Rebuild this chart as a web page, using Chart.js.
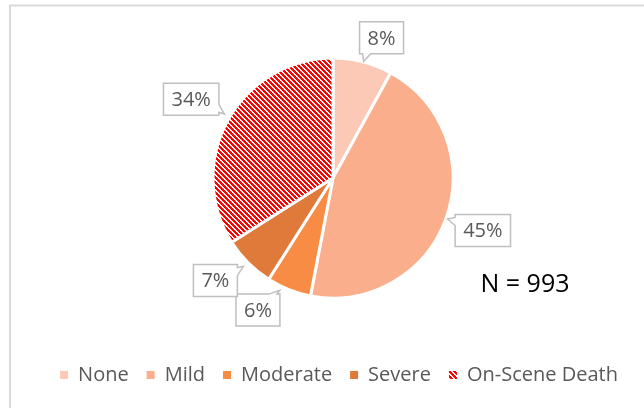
<!DOCTYPE html>
<html>
<head>
<meta charset="utf-8">
<script src="https://cdn.jsdelivr.net/npm/chart.js@4"></script>
<style>
  html, body { margin: 0; padding: 0; background: #fff; }
  #wrap { width: 644px; height: 408px; }
</style>
</head>
<body>
<div id="wrap"><canvas id="severityChart" width="644" height="408"></canvas></div>
<script>
// chart data
const categories = ["None", "Mild", "Moderate", "Severe", "On-Scene Death"]
const percents = [8, 45, 6, 7, 34]
const sampleSize = 993

const sliceColors = ["#FCC9B6", "#FBAE8C", "#F98C44", "#E07A3B"]

// red with white diagonal stripes for the last slice
function stripePattern() {
  const n = 5
  const c = document.createElement("canvas")
  c.width = n
  c.height = n
  const g = c.getContext("2d")
  g.fillStyle = "#FF0000"
  g.fillRect(0, 0, n, n)
  g.fillStyle = "#FFFFFF"
  for (let y = 0; y < n; y++) {
    g.fillRect(y, y, 1, 1)
    g.fillRect((y + 1) % n, y, 1, 1)
  }
  return g.createPattern(c, "repeat")
}

const frameLine = {
  id: "frameLine",
  beforeDraw(chart) {
    const ctx = chart.ctx
    ctx.save()
    ctx.strokeStyle = "#D9D9D9"
    ctx.lineWidth = 2
    ctx.strokeRect(10, 5.5, 800, 600)
    ctx.restore()
  },
}

// nudge the legend a little to the right, as in the original
const legendShift = {
  id: "legendShift",
  afterLayout(chart) {
    if (chart.legend) {
      chart.legend.left += 6
      chart.legend.right += 6
    }
  },
}

function drawCallout(ctx, cx, cy, w, h, ax, ay) {
  const L = cx - w / 2, R = cx + w / 2, T = cy - h / 2, B = cy + h / 2
  const nw = 4, depth = 8
  const dx = ax - cx, dy = ay - cy
  let side
  if (Math.abs(dx) / (w / 2) > Math.abs(dy) / (h / 2)) side = dx > 0 ? "right" : "left"
  else side = dy > 0 ? "bottom" : "top"
  const clamp = (v, a, b) => Math.max(a, Math.min(b, v))
  let b1, b2
  if (side === "top" || side === "bottom") {
    const px = clamp(ax, L + nw + 3, R - nw - 3)
    const yy = side === "top" ? T : B
    b1 = [px - nw, yy]
    b2 = [px + nw, yy]
  } else {
    const py = clamp(ay, T + nw + 3, B - nw - 3)
    const xx = side === "left" ? L : R
    b1 = [xx, py - nw]
    b2 = [xx, py + nw]
  }
  const mx = (b1[0] + b2[0]) / 2, my = (b1[1] + b2[1]) / 2
  const vx = ax - mx, vy = ay - my
  const len = Math.hypot(vx, vy) || 1
  const tip = [mx + (vx / len) * depth, my + (vy / len) * depth]

  ctx.beginPath()
  ctx.moveTo(L, T)
  if (side === "top") { ctx.lineTo(b1[0], T); ctx.lineTo(tip[0], tip[1]); ctx.lineTo(b2[0], T) }
  ctx.lineTo(R, T)
  if (side === "right") { ctx.lineTo(R, b1[1]); ctx.lineTo(tip[0], tip[1]); ctx.lineTo(R, b2[1]) }
  ctx.lineTo(R, B)
  if (side === "bottom") { ctx.lineTo(b2[0], B); ctx.lineTo(tip[0], tip[1]); ctx.lineTo(b1[0], B) }
  ctx.lineTo(L, B)
  if (side === "left") { ctx.lineTo(L, b2[1]); ctx.lineTo(tip[0], tip[1]); ctx.lineTo(L, b1[1]) }
  ctx.closePath()
  ctx.fillStyle = "#FFFFFF"
  ctx.fill()
  ctx.strokeStyle = "#BFBFBF"
  ctx.lineWidth = 1.5
  ctx.stroke()
}

const calloutLabels = {
  id: "calloutLabels",
  afterDatasetsDraw(chart, args, opts) {
    const ctx = chart.ctx
    const meta = chart.getDatasetMeta(0)
    const values = chart.data.datasets[0].data
    ctx.save()
    ctx.font = opts.font
    ctx.textAlign = "center"
    ctx.textBaseline = "middle"
    meta.data.forEach((arc, i) => {
      const p = arc.getProps(["x", "y", "startAngle", "endAngle", "outerRadius"], true)
      const mid = (p.startAngle + p.endAngle) / 2
      const ax = p.x + Math.cos(mid) * (p.outerRadius - 6)
      const ay = p.y + Math.sin(mid) * (p.outerRadius - 6)
      const nudge = opts.nudges[i]
      const bx = p.x + Math.cos(mid) * (p.outerRadius + opts.gap) + nudge[0]
      const by = p.y + Math.sin(mid) * (p.outerRadius + opts.gap) + nudge[1]
      const text = values[i] + "%"
      const w = ctx.measureText(text).width + 16
      const h = 32
      drawCallout(ctx, bx, by, w, h, ax, ay)
      ctx.fillStyle = "#595959"
      ctx.fillText(text, bx, by + 1)
    })
    ctx.restore()
  },
}

const sampleNote = {
  id: "sampleNote",
  afterDraw(chart, args, opts) {
    const ctx = chart.ctx
    ctx.save()
    ctx.font = opts.font
    ctx.fillStyle = "#000000"
    ctx.textAlign = "center"
    ctx.textBaseline = "middle"
    ctx.fillText("N = " + sampleSize, opts.x, opts.y)
    ctx.restore()
  },
}

const defaultLabels = Chart.overrides.pie.plugins.legend.labels.generateLabels

new Chart(document.getElementById("severityChart"), {
  type: "pie",
  data: {
    labels: categories,
    datasets: [
      {
        data: percents,
        backgroundColor: [...sliceColors, stripePattern()],
        borderColor: "#FFFFFF",
        borderWidth: 3,
      },
    ],
  },
  options: {
    responsive: false,
    animation: false,
    radius: 120,
    layout: { padding: { top: 9, left: 22, right: 0, bottom: 13 } },
    plugins: {
      tooltip: { enabled: false },
      legend: {
        position: "bottom",
        labels: {
          font: { family: "'Open Sans'", size: 20 },
          color: "#595959",
          boxWidth: 8,
          boxHeight: 8,
          padding: 18,
          generateLabels: chart =>
            defaultLabels(chart).map(item => ({ ...item, lineWidth: 0, strokeStyle: "rgba(0,0,0,0)" })),
        },
      },
      calloutLabels: {
        font: "20px 'Open Sans'",
        gap: 35,
        nudges: [[10, 10], [4, 0], [-18, -12], [-8, -7], [-6, -4]],
      },
      sampleNote: { font: "25px 'Open Sans'", x: 525, y: 285 },
    },
  },
  plugins: [frameLine, legendShift, calloutLabels, sampleNote],
})
</script>
</body>
</html>
